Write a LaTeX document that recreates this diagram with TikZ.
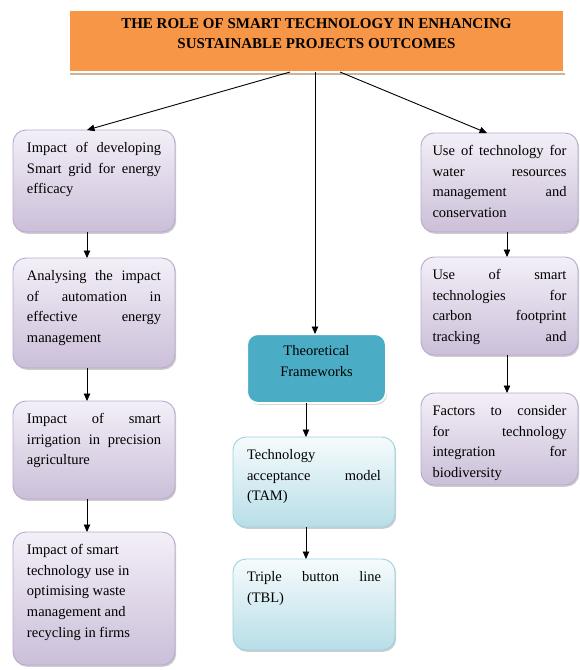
\documentclass[tikz,border=0pt]{standalone}
\usepackage{fontspec}
\setmainfont{Liberation Serif}
\usetikzlibrary{arrows.meta,shadows}

\definecolor{titleorange}{HTML}{F79646}
\definecolor{lilactop}{HTML}{F3EFF7}
\definecolor{lilacbot}{HTML}{CBBFD9}
\definecolor{lilacedge}{HTML}{B9A9CE}
\definecolor{bluetop}{HTML}{F6FBFC}
\definecolor{bluebot}{HTML}{B7DEE8}
\definecolor{blueedge}{HTML}{9CD2E0}
\definecolor{tealfill}{HTML}{4BACC6}

% one fully justified line of a box
\newcommand\jl[1]{\makebox[\linewidth][s]{#1}}
\newcommand\bodyfont{\fontsize{14.5}{20.7}\selectfont}
% box content: width, height, lines
\newcommand\cell[3]{\parbox[c][#2][t]{#1}{\vspace*{8pt}\bodyfont\strut #3}}

\tikzset{
  every node/.style={inner sep=0pt, outer sep=0pt, anchor=north west},
  softshadow/.style={drop shadow={shadow xshift=1.2pt, shadow yshift=-1.8pt, opacity=0.28, fill=black!70}},
  lilacbox/.style={rectangle, rounded corners=13pt, draw=lilacedge, line width=0.9pt,
    top color=lilactop, bottom color=lilacbot, softshadow},
  bluebox/.style={rectangle, rounded corners=13pt, draw=blueedge, line width=0.9pt,
    top color=bluetop, bottom color=bluebot, softshadow},
  tealbox/.style={rectangle, rounded corners=11pt, draw=white, line width=2pt,
    fill=tealfill, drop shadow={shadow xshift=1.2pt, shadow yshift=-1.8pt, opacity=0.3, fill=black!60}},
  titlebox/.style={rectangle, draw=white, line width=1.5pt, fill=titleorange,
    drop shadow={shadow xshift=1.2pt, shadow yshift=-2.5pt, opacity=0.45, fill=brown!70!black}},
  link/.style={line width=0.9pt, -{Triangle[length=7.5pt,width=6.5pt]}},
}

\begin{document}
\begin{tikzpicture}[x=1pt, y=-1pt]
\useasboundingbox (0,0) rectangle (579,670);

% heading
\node[titlebox, minimum width=495pt, minimum height=62pt] (title) at (69,10)
  {\parbox[c][62pt][t]{480pt}{\vspace*{4pt}\centering\bfseries\fontsize{15}{20}\selectfont\strut
   THE ROLE OF SMART TECHNOLOGY IN ENHANCING\\ SUSTAINABLE PROJECTS OUTCOMES}};

% left column
\node[lilacbox, minimum width=162pt] (l1) at (13,130)
  {\cell{134pt}{102pt}{\jl{Impact of developing}\\ \jl{Smart grid for energy}\\ efficacy}};
\node[lilacbox, minimum width=162pt] (l2) at (13,258)
  {\cell{134pt}{110pt}{\jl{Analysing the impact}\\ \jl{of automation in}\\ \jl{effective energy}\\ management}};
\node[lilacbox, minimum width=162pt] (l3) at (13,401)
  {\cell{134pt}{98pt}{\jl{Impact of smart}\\ \jl{irrigation in precision}\\ agriculture}};
\node[lilacbox, minimum width=162pt] (l4) at (13,532)
  {\cell{134pt}{133pt}{Impact of smart\\ technology use in\\ optimising waste\\ management and\\ recycling in firms}};

% right column
\node[lilacbox, minimum width=157pt] (r1) at (421,133)
  {\cell{134pt}{99pt}{\jl{Use of technology for}\\ \jl{water resources}\\ \jl{management and}\\ conservation}};
\node[lilacbox, minimum width=157pt] (r2) at (421,257)
  {\cell{134pt}{98pt}{\jl{Use of smart}\\ \jl{technologies for}\\ \jl{carbon footprint}\\ \jl{tracking and}}};
\node[lilacbox, minimum width=157pt] (r3) at (421,393)
  {\cell{134pt}{92pt}{\jl{Factors to consider}\\ \jl{for technology}\\ \jl{integration for}\\ biodiversity}};

% middle column
\node[tealbox, minimum width=139pt] (m1) at (247,334)
  {\parbox[c][69pt][t]{120pt}{\vspace*{7pt}\centering\bodyfont\strut Theoretical\\ Frameworks}};
\node[bluebox, minimum width=162pt] (m2) at (233,437)
  {\cell{134pt}{90pt}{Technology\\ \jl{acceptance model}\\ (TAM)}};
\node[bluebox, minimum width=162pt] (m3) at (233,559)
  {\cell{134pt}{91pt}{\jl{Triple button line}\\ (TBL)}};

% connectors
\draw[link] ([xshift=-26.5pt]title.south) -- ([xshift=-7pt]l1.north);
\draw[link] ([xshift=-1.5pt]title.south) -- ([xshift=-1.5pt]m1.north);
\draw[link] ([xshift=23.5pt]title.south) -- ([xshift=-12.5pt]r1.north);

\draw[link] ([xshift=-7pt]l1.south) -- ([xshift=-7pt]l2.north);
\draw[link] ([xshift=-7pt]l2.south) -- ([xshift=-7pt]l3.north);
\draw[link] ([xshift=-7pt]l3.south) -- ([xshift=-7pt]l4.north);

\draw[link] ([xshift=7.5pt]r1.south) -- ([xshift=7.5pt]r2.north);
\draw[link] ([xshift=7.5pt]r2.south) -- ([xshift=7.5pt]r3.north);

\draw[link] ([xshift=-10.5pt]m1.south) -- ([xshift=-8pt]m2.north);
\draw[link] ([xshift=-8pt]m2.south) -- ([xshift=-8pt]m3.north);
\end{tikzpicture}
\end{document}
